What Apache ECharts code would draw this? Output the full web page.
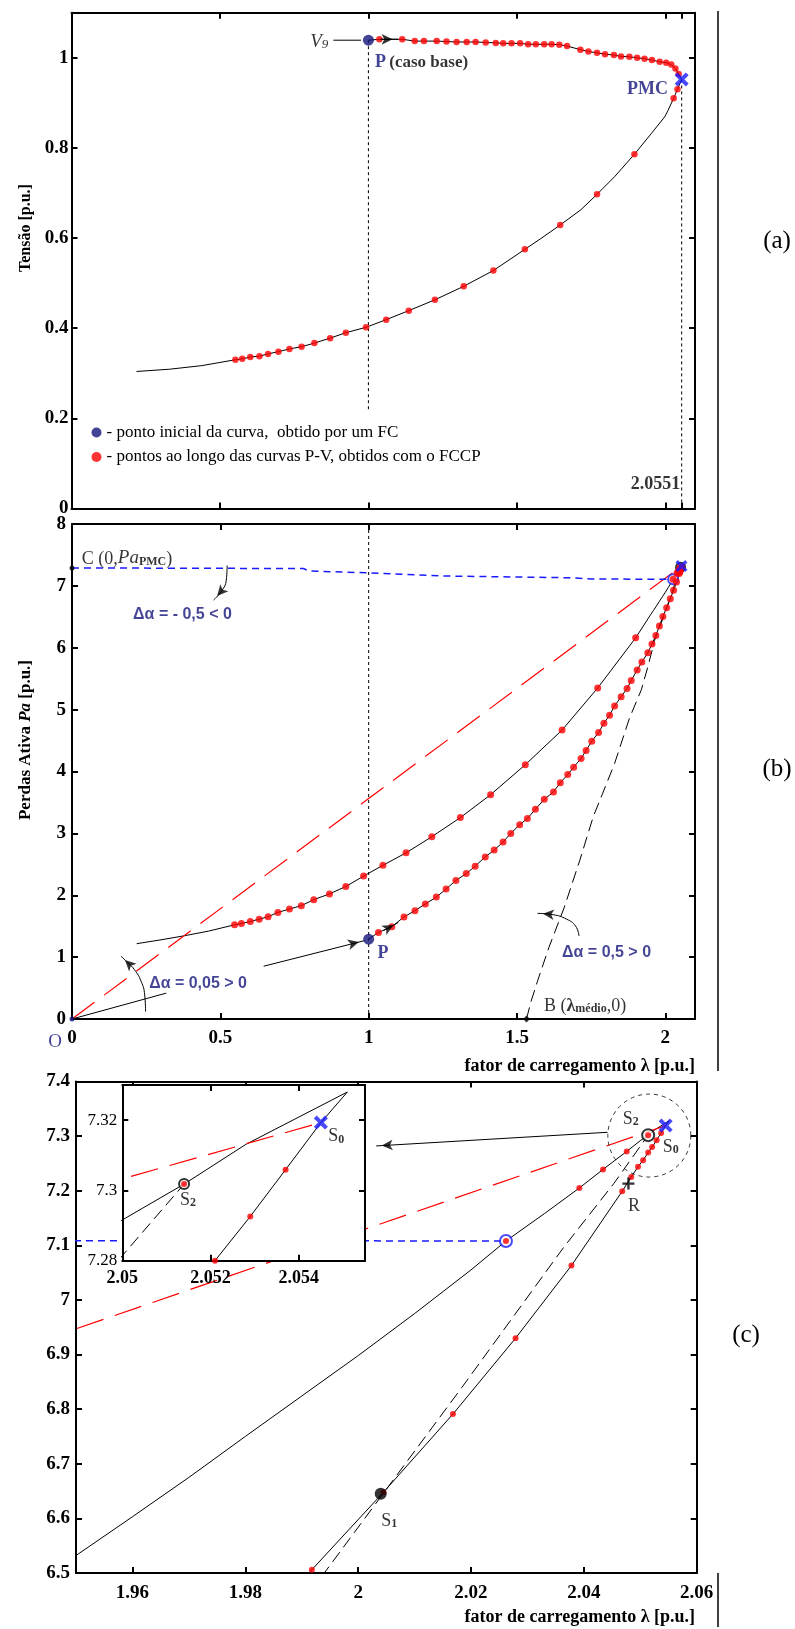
<!DOCTYPE html>
<html><head><meta charset="utf-8">
<script src="https://cdn.jsdelivr.net/npm/echarts@6/dist/echarts.min.js"></script>
<style>html,body{margin:0;padding:0;background:#fff}#c{width:795px;height:1629px}</style>
</head><body><div id="c"></div>
<script>
// ================= DATA =================
// ---- Panel (a): P-V curve (Tensão x fator de carregamento) ----
const pvStart = [[1.0, 1.039]];            // P (caso base)
const pvPMC   = [[2.0551, 0.952]];         // PMC
const pvUpperDots = [[1.037,1.041],[1.114,1.041],[1.156,1.037],[1.187,1.037],[1.23,1.037],[1.263,1.036],[1.297,1.035],[1.331,1.035],[1.361,1.035],[1.395,1.034],[1.429,1.033],[1.454,1.032],[1.482,1.032],[1.511,1.032],[1.538,1.030],[1.564,1.030],[1.592,1.030],[1.617,1.030],[1.643,1.029],[1.669,1.026],[1.714,1.018],[1.741,1.014],[1.770,1.011],[1.797,1.008],[1.827,1.006],[1.851,1.003],[1.879,1.002],[1.905,1.000],[1.930,0.998],[1.955,0.995],[1.981,0.991],[2.003,0.989],[2.020,0.985],[2.034,0.976],[2.045,0.964]];
const pvLowerLine = [[2.041,0.930],[2.028,0.910],[2.009,0.883],[1.998,0.869],[1.953,0.832],[1.896,0.786],[1.829,0.736],[1.770,0.697],[1.716,0.663],[1.646,0.629],[1.581,0.599],[1.527,0.575],[1.421,0.528],[1.321,0.493],[1.224,0.463],[1.136,0.439],[1.060,0.419],[0.992,0.402],[0.924,0.390],[0.871,0.378],[0.818,0.367],[0.775,0.359],[0.734,0.354],[0.697,0.348],[0.662,0.343],[0.633,0.338],[0.602,0.336],[0.575,0.332],[0.552,0.330],[0.439,0.317],[0.33,0.309],[0.219,0.304]];
const pvLowerDots = [[2.041,0.930],[2.028,0.910],[1.896,0.786],[1.770,0.697],[1.646,0.629],[1.527,0.575],[1.421,0.528],[1.321,0.493],[1.224,0.463],[1.136,0.439],[1.060,0.419],[0.992,0.402],[0.924,0.390],[0.871,0.378],[0.818,0.367],[0.775,0.359],[0.734,0.354],[0.697,0.348],[0.662,0.343],[0.633,0.338],[0.602,0.336],[0.575,0.332],[0.552,0.330]];
const pvGuide1 = [[1,1.039],[1,0.22]];
const pvGuide2 = [[2.0551,0.952],[2.0551,0]];
const pvV9Line = [[0.882,1.039],[0.975,1.039]];
const pvDirArrow = [[1.04,1.041],[1.10,1.041]];

// ---- Panels (b), (c) and inset: Perdas Ativa Pa x fator de carregamento ----
const lossUpper = [[0.218,1.217],[0.30,1.28],[0.375,1.342],[0.46,1.42],[0.548,1.522],[0.571,1.543],[0.601,1.576],[0.631,1.614],[0.661,1.652],[0.694,1.723],[0.733,1.777],[0.773,1.832],[0.815,1.929],[0.868,2.022],[0.923,2.141],[0.983,2.310],[1.048,2.484],[1.126,2.685],[1.213,2.946],[1.309,3.255],[1.411,3.625],[1.528,4.11],[1.652,4.67],[1.772,5.35],[1.90,6.16],[1.95,6.532],[1.96,6.603],[1.97,6.675],[1.98,6.750],[1.99,6.824],[2.0,6.898],[2.01,6.975],[2.02,7.055],[2.0262,7.108],[2.033,7.158],[2.0392,7.205],[2.0434,7.239],[2.0476,7.272],[2.05,7.2916],[2.0514,7.3018],[2.0528,7.3131],[2.0551,7.328]];
const upperDots = [[0.548,1.522],[0.571,1.543],[0.601,1.576],[0.631,1.614],[0.661,1.652],[0.694,1.723],[0.733,1.777],[0.773,1.832],[0.815,1.929],[0.868,2.022],[0.923,2.141],[0.983,2.310],[1.048,2.484],[1.126,2.685],[1.213,2.946],[1.309,3.255],[1.411,3.625],[1.528,4.11],[1.652,4.67],[1.772,5.35],[1.90,6.16],[2.0262,7.108],[2.0392,7.205],[2.0434,7.239],[2.0476,7.272],[2.0514,7.3018]];
const lossLower = [[1.0,1.29],[1.033,1.40],[1.078,1.49],[1.119,1.65],[1.156,1.75],[1.191,1.86],[1.228,1.97],[1.261,2.10],[1.294,2.24],[1.329,2.35],[1.359,2.47],[1.393,2.62],[1.423,2.73],[1.453,2.86],[1.479,3.00],[1.509,3.14],[1.535,3.24],[1.562,3.39],[1.592,3.55],[1.623,3.67],[1.646,3.82],[1.671,3.95],[1.691,4.07],[1.716,4.21],[1.733,4.34],[1.752,4.49],[1.775,4.63],[1.793,4.78],[1.812,4.91],[1.829,5.06],[1.851,5.21],[1.871,5.34],[1.885,5.47],[1.905,5.64],[1.921,5.77],[1.941,5.92],[1.955,6.06],[1.968,6.20],[1.980,6.35],[1.9918,6.506],[2.0045,6.648],[2.0168,6.791],[2.0279,6.930],[2.0378,7.063],[2.0468,7.199],[2.0484,7.225],[2.0496,7.244],[2.0505,7.256],[2.0514,7.270],[2.0521,7.280],[2.0529,7.2926],[2.0537,7.3059],[2.0545,7.3193],[2.0551,7.328]];
const lowerDots = [[1.033,1.40],[1.078,1.49],[1.119,1.65],[1.156,1.75],[1.191,1.86],[1.228,1.97],[1.261,2.10],[1.294,2.24],[1.329,2.35],[1.359,2.47],[1.393,2.62],[1.423,2.73],[1.453,2.86],[1.479,3.00],[1.509,3.14],[1.535,3.24],[1.562,3.39],[1.592,3.55],[1.623,3.67],[1.646,3.82],[1.671,3.95],[1.691,4.07],[1.716,4.21],[1.733,4.34],[1.752,4.49],[1.775,4.63],[1.793,4.78],[1.812,4.91],[1.829,5.06],[1.851,5.21],[1.871,5.34],[1.885,5.47],[1.905,5.64],[1.921,5.77],[1.941,5.92],[1.955,6.06],[1.968,6.20],[1.980,6.35],[1.9918,6.506],[2.0045,6.648],[2.0168,6.791],[2.0279,6.930],[2.0378,7.063],[2.0468,7.199],[2.0484,7.225],[2.0496,7.244],[2.0505,7.256],[2.0514,7.270],[2.0521,7.280],[2.0529,7.2926],[2.0537,7.3059]];
const bLine = [[1.532,0],[1.547,0.28],[1.569,0.61],[1.607,1.15],[1.659,1.80],[1.712,2.57],[1.757,3.27],[1.789,3.65],[1.829,4.13],[1.879,4.86],[1.919,5.32],[1.941,5.69],[1.964,6.12],[1.994,6.5],[2.0184,6.84],[2.0364,7.096],[2.0453,7.213],[2.0514,7.3018]];
const redLine = [[0,0],[2.0545,7.3193]];
const blueLine = [[0,7.29],[0.78,7.28],[0.80,7.24],[1.0,7.21],[1.25,7.16],[1.69,7.13],[1.75,7.11],[2.0262,7.108]];
const guideB = [[1,8],[1,0]];
const pointP = [[1.0,1.29]];
const pointS0 = [[2.0545,7.3193]];
const pointS2 = [[2.0514,7.3018]];
const pointS1 = [[2.004,6.645]];
const pointR = [[2.0479,7.213]];
const pointQ = [[2.0262,7.108]];
const pointC = [[0,7.29]];
const pointB = [[1.532,0]];
const pointO = [[0,0]];
const zoomRing = [[2.0516,7.301]];
const arrO = [[0,0],[0.3176,0.418]];
const arrCurve1 = [[0.248,0.12],[0.245,0.39],[0.233,0.61],[0.21,0.80],[0.188,0.91],[0.165,1.016]];
const arrToP = [[0.646,0.853],[0.985,1.265]];
const arrDirB = [[1.05,1.43],[1.10,1.56]];
const arrCurve2 = [[1.709,1.342],[1.697,1.505],[1.667,1.614],[1.622,1.685],[1.569,1.707]];
const arrCurve3 = [[0.523,7.33],[0.52,7.09],[0.506,6.93],[0.477,6.77]];
const arrToInset = [[2.0442,7.307],[2.0032,7.282]];

// ---- tick values ----
const ticksA_x = [0.5,1,1.5,2,2.0551];
const ticksC_x = [1.96,1.98,2,2.02,2.04,2.06];
const ticksIn_x = [2.05,2.052,2.054];
const ticksIn_y = [7.28,7.3,7.32];

const LEG1 = '- ponto inicial da curva,  obtido por um FC';
const LEG2 = '- pontos ao longo das curvas P-V, obtidos com o FCCP';

// ================= STYLE =================
const SERIF = '"Liberation Serif","Times New Roman",serif';
const SANS = '"Liberation Sans",Arial,sans-serif';
const NAVY = '#15157c', BLUE = '#1a1aff', RED = '#ff0000';
const XPATH = 'path://M2,0 L5,3 L8,0 L10,2 L7,5 L10,8 L8,10 L5,7 L2,10 L0,8 L3,5 L0,2 Z';
const PLUS = 'path://M4,0 H6 V4 H10 V6 H6 V10 H4 V6 H0 V4 H4 Z';
const RICH = {
  r:  {fontFamily:SERIF, fontSize:18, color:'#000', lineHeight:22, verticalAlign:'bottom'},
  i:  {fontFamily:SERIF, fontSize:19, fontStyle:'italic', color:'#000', lineHeight:22, verticalAlign:'bottom'},
  b:  {fontFamily:SERIF, fontSize:17, fontWeight:'bold', color:'#000', lineHeight:22, verticalAlign:'bottom'},
  n:  {fontFamily:SERIF, fontSize:18, fontWeight:'bold', color:'#000', lineHeight:22, verticalAlign:'bottom'},
  pb: {fontFamily:SERIF, fontSize:18, fontWeight:'bold', color:NAVY, lineHeight:22, verticalAlign:'bottom'},
  sb: {fontFamily:SERIF, fontSize:12, fontWeight:'bold', color:'#000', lineHeight:6, verticalAlign:'bottom'},
  si: {fontFamily:SERIF, fontSize:13, fontStyle:'italic', color:'#000', lineHeight:6, verticalAlign:'bottom'},
  da: {fontFamily:SANS, fontSize:16, fontWeight:'bold', color:NAVY, lineHeight:22, verticalAlign:'bottom'},
  o:  {fontFamily:SERIF, fontSize:19, color:NAVY, lineHeight:22, verticalAlign:'bottom'}
};

const grids = [
  {left:71.5, top:12.7, width:623.5, height:495.8},
  {left:72, top:524, width:623, height:495},
  {left:76, top:1081.5, width:620.7, height:491.5},
  {left:122.3, top:1085, width:242.7, height:175.7, show:true, backgroundColor:'#fff', borderWidth:0, z:20}
];
const fmt = v => String(+(+v).toFixed(4));
const axLine = {show:true, onZero:false, lineStyle:{color:'#000', width:2}};

function xAxes(g, o) {
  const base = {type:'value', gridIndex:g, min:o.min, max:o.max, interval:o.interval, z:o.z||0, splitLine:{show:false}, axisLine:axLine};
  const tick = {show:true, inside:true, length:6, lineStyle:{color:'#000', width:2}, customValues:o.ticks};
  return [
    Object.assign({}, base, {position:'bottom', axisTick:tick,
      axisLabel:{show:!!o.labels, customValues:o.ticks, formatter:fmt, margin:o.margin||10, showMaxLabel:!o.hideMax, color:'#000', fontFamily:SERIF, fontSize:o.fs||19, fontWeight:o.fw||'bold'}}),
    Object.assign({}, base, {position:'top', axisTick:tick, axisLabel:{show:false}})
  ];
}
function yAxes(g, o) {
  const base = {type:'value', gridIndex:g, min:o.min, max:o.max, interval:o.interval, z:o.z||0, splitLine:{show:false}, axisLine:axLine};
  const tick = {show:true, inside:true, length:6, lineStyle:{color:'#000', width:2}, customValues:o.ticks};
  return [
    Object.assign({}, base, {position:'left', axisTick:tick,
      axisLabel:{show:true, customValues:o.ticks, formatter:fmt, margin:o.margin||5, showMaxLabel:!o.hideMax, color:'#000', fontFamily:SERIF, fontSize:o.fs||19, fontWeight:o.fw||'bold'}}),
    Object.assign({}, base, {position:'right', axisTick:tick, axisLabel:{show:false}})
  ];
}
const xAxis = [].concat(
  xAxes(0, {min:0, max:2.1, interval:0.5, ticks:ticksA_x, labels:false}),
  xAxes(1, {min:0, max:2.1, interval:0.5, labels:true, hideMax:true}),
  xAxes(2, {min:1.95, max:2.06, ticks:ticksC_x, labels:true, margin:11}),
  xAxes(3, {min:2.05, max:2.0555, ticks:ticksIn_x, labels:true, z:21, fs:18, margin:9})
);
const yAxis = [].concat(
  yAxes(0, {min:0, max:1.1, interval:0.2, margin:3, hideMax:true}),
  yAxes(1, {min:0, max:8, interval:1, margin:6}),
  yAxes(2, {min:6.5, max:7.4, interval:0.1, margin:6}),
  yAxes(3, {min:7.28, max:7.33, ticks:ticksIn_y, z:21, fs:17, fw:'normal', margin:5})
);

// ---------- series helpers ----------
const series = [];
const heads = [];
function zOf(g, z) { return g === 3 ? 22 + z : z; }
function line(g, data, ls, z) {
  series.push({type:'line', xAxisIndex:2*g, yAxisIndex:2*g, data, symbol:'none', silent:true, z:zOf(g, z||2),
    lineStyle:Object.assign({color:'#000', width:1}, ls)});
}
function dots(g, data, symbol, size, style, z, name) {
  const s = {type:'scatter', xAxisIndex:2*g, yAxisIndex:2*g, data, symbol, symbolSize:size, silent:true, z:zOf(g, z||4),
    itemStyle:style};
  if (name) s.name = name;
  series.push(s);
}
function arrow(g, pts, head, smooth) {
  series.push({type:'line', xAxisIndex:2*g, yAxisIndex:2*g, data:pts, symbol:'none', smooth:!!smooth, silent:true, z:zOf(g,5),
    lineStyle:{color:'#000', width:1}});
  if (head) heads.push({si:series.length-1, g, pts});
}
function texts(g, items) {
  series.push({type:'scatter', xAxisIndex:2*g, yAxisIndex:2*g, symbol:'circle', symbolSize:1, clip:false, silent:true, z:zOf(g,7),
    itemStyle:{color:'rgba(0,0,0,0)'},
    data:items.map(it => ({value:it.c, label:{show:true, position:'inside', formatter:it.t, align:it.align||'left',
      verticalAlign:'middle', offset:it.off||[0,0], rich:RICH}}))});
}

// ---------- panel (a) ----------
line(0, pvStart.concat(pvUpperDots, pvPMC));
line(0, pvPMC.concat(pvLowerLine));
line(0, pvGuide1, {type:[3,3]});
line(0, pvGuide2, {type:[3,3]});
arrow(0, pvV9Line, false);
arrow(0, pvDirArrow, true);
dots(0, pvUpperDots.concat(pvLowerDots), 'circle', 6.5, {color:RED}, 4, LEG2);
dots(0, pvStart, 'circle', 11, {color:NAVY}, 5, LEG1);
dots(0, pvPMC, XPATH, 14, {color:BLUE}, 6);
texts(0, [
  {c:[0.865,1.039], t:'{i|V}{si|9}', align:'right'},
  {c:[1.022,0.994], t:'{pb|P} {b|(caso base)}'},
  {c:[2.009,0.934], t:'{pb|PMC}', align:'right'},
  {c:[2.05,0.057], t:'{n|2.0551}', align:'right'}
]);

// ---------- panels (b), (c), inset ----------
function curves(g) {
  line(g, lossUpper);
  line(g, lossLower);
  line(g, bLine, {type:[12,6]});
  line(g, redLine, {color:RED, type:[28,12], width:1.2});
}
// (b)
curves(1);
line(1, blueLine, {color:BLUE, type:[7,5], width:1.5});
line(1, guideB, {type:[3,3]});
dots(1, pointQ, 'emptyCircle', 10, {color:BLUE, borderWidth:2}, 3);
dots(1, pointS2, 'emptyCircle', 9, {color:'#000', borderWidth:2}, 3);
dots(1, upperDots.concat(lowerDots), 'circle', 7, {color:RED}, 4);
dots(1, pointP, 'circle', 11, {color:NAVY}, 5);
dots(1, pointS0, XPATH, 12, {color:BLUE}, 6);
dots(1, pointC, 'circle', 5, {color:'#000'}, 6);
dots(1, pointB, 'diamond', 7, {color:'#000'}, 6);
dots(1, pointO, 'circle', 5, {color:NAVY}, 6);
arrow(1, arrO, false);
arrow(1, arrCurve1, true, true);
arrow(1, arrToP, true);
arrow(1, arrDirB, true);
arrow(1, arrCurve2, true, true);
arrow(1, arrCurve3, true, true);
texts(1, [
  {c:[0.033,7.47], t:'{r|C (0,}{i|Pa}{sb|PMC}{r|)}'},
  {c:[0.206,6.58], t:'{da|Δα = - 0,5 < 0}'},
  {c:[0.26,0.614], t:'{da|Δα = 0,05 > 0}'},
  {c:[1.652,1.115], t:'{da|Δα = 0,5 > 0}'},
  {c:[1.591,0.242], t:'{r|B (}{n|λ}{sb|médio}{r|,0)}'},
  {c:[1.03,1.087], t:'{pb|P}'},
  {c:[0,0], t:'{o|O}', align:'center', off:[-17,22]}
]);
// (c)
curves(2);
line(2, blueLine, {color:BLUE, type:[7,5], width:1.5});
dots(2, zoomRing, 'circle', 83, {color:'rgba(0,0,0,0)', borderColor:'#000', borderWidth:1, borderType:[4,4]}, 3);
dots(2, pointQ, 'emptyCircle', 12, {color:BLUE, borderWidth:2}, 3);
dots(2, pointS2, 'emptyCircle', 12, {color:'#000', borderWidth:2}, 3);
dots(2, upperDots.concat(lowerDots), 'circle', 6, {color:RED}, 4);
dots(2, pointS1, 'circle', 12, {color:'#000'}, 5);
dots(2, pointR, PLUS, 12, {color:'#000'}, 6);
dots(2, pointS0, XPATH, 14, {color:BLUE}, 6);
arrow(2, arrToInset, true);
texts(2, [
  {c:[2.0483,7.335], t:'{r|S}{sb|2}', align:'center'},
  {c:[2.0554,7.284], t:'{r|S}{sb|0}', align:'center'},
  {c:[2.0489,7.176], t:'{r|R}', align:'center'},
  {c:[2.0055,6.599], t:'{r|S}{sb|1}', align:'center'}
]);
// inset
curves(3);
dots(3, pointS2, 'emptyCircle', 10, {color:'#000', borderWidth:2}, 3);
dots(3, upperDots.concat(lowerDots), 'circle', 6, {color:RED}, 4);
dots(3, pointS0, XPATH, 14, {color:BLUE}, 6);
texts(3, [
  {c:[2.05485,7.3159], t:'{r|S}{sb|0}', align:'center'},
  {c:[2.05149,7.2978], t:'{r|S}{sb|2}', align:'center'}
]);

const titleFont = (sz, w) => ({fontFamily:SERIF, fontSize:sz, fontWeight:w||'bold', fill:'#000'});
const option = {
  animation:false,
  backgroundColor:'#fff',
  grid:grids, xAxis, yAxis, series,
  legend:{data:[{name:LEG1, icon:'circle'},{name:LEG2, icon:'circle'}], orient:'vertical', left:91.5, top:423.5, padding:0,
    itemWidth:10, itemHeight:10, itemGap:6.5, selectedMode:false,
    textStyle:{fontFamily:SERIF, fontSize:17, color:'#000', lineHeight:18}},
  graphic:[
    {type:'text', x:26, y:228, rotation:Math.PI/2, style:Object.assign({text:'Tensão [p.u.]', align:'center', verticalAlign:'middle'}, titleFont(16))},
    {type:'text', x:26, y:740, rotation:Math.PI/2, style:{text:'{b|Perdas Ativa }{bi|Pa}{b| [p.u.]}', align:'center', verticalAlign:'middle',
      rich:{b:{fontFamily:SERIF, fontSize:17, fontWeight:'bold', fill:'#000'}, bi:{fontFamily:SERIF, fontSize:17, fontWeight:'bold', fontStyle:'italic', fill:'#000'}}}},
    {type:'text', x:695, y:1066, style:Object.assign({text:'fator de carregamento λ [p.u.]', align:'right', verticalAlign:'middle'}, titleFont(18))},
    {type:'text', x:695, y:1617, style:Object.assign({text:'fator de carregamento λ [p.u.]', align:'right', verticalAlign:'middle'}, titleFont(18))},
    {type:'text', x:777, y:241, style:Object.assign({text:'(a)', align:'center', verticalAlign:'middle'}, titleFont(25,'normal'))},
    {type:'text', x:777, y:769, style:Object.assign({text:'(b)', align:'center', verticalAlign:'middle'}, titleFont(25,'normal'))},
    {type:'text', x:746, y:1335, style:Object.assign({text:'(c)', align:'center', verticalAlign:'middle'}, titleFont(25,'normal'))},
    {type:'line', shape:{x1:718, y1:11, x2:718, y2:1071}, style:{stroke:'#000', lineWidth:1.5}},
    {type:'line', shape:{x1:718, y1:1573, x2:718, y2:1627}, style:{stroke:'#000', lineWidth:1.5}}
  ]
};
const chart = echarts.init(document.getElementById('c'), null, {renderer:'canvas'});
chart.setOption(option);

// arrowheads: oriented along the last segment, positioned through the axes' own scales
const headItems = {};
heads.forEach(h => {
  const n = h.pts.length;
  const p1 = chart.convertToPixel({seriesIndex:h.si}, h.pts[n-2]);
  const p2 = chart.convertToPixel({seriesIndex:h.si}, h.pts[n-1]);
  const dx = p2[0]-p1[0], dy = p2[1]-p1[1], L = Math.hypot(dx, dy) || 1;
  const half = 5.5;
  const c = chart.convertFromPixel({seriesIndex:h.si}, [p2[0]-dx/L*half, p2[1]-dy/L*half]);
  (headItems[h.g] = headItems[h.g] || []).push({value:c, symbolRotate:Math.atan2(-dx, -dy)*180/Math.PI});
});
Object.keys(headItems).forEach(k => {
  const g = +k;
  series.push({type:'scatter', xAxisIndex:2*g, yAxisIndex:2*g, data:headItems[k], symbol:'arrow', symbolSize:[8,11],
    clip:false, silent:true, z:zOf(g,6), itemStyle:{color:'#000'}});
});
chart.setOption(option, true);
</script></body></html>
